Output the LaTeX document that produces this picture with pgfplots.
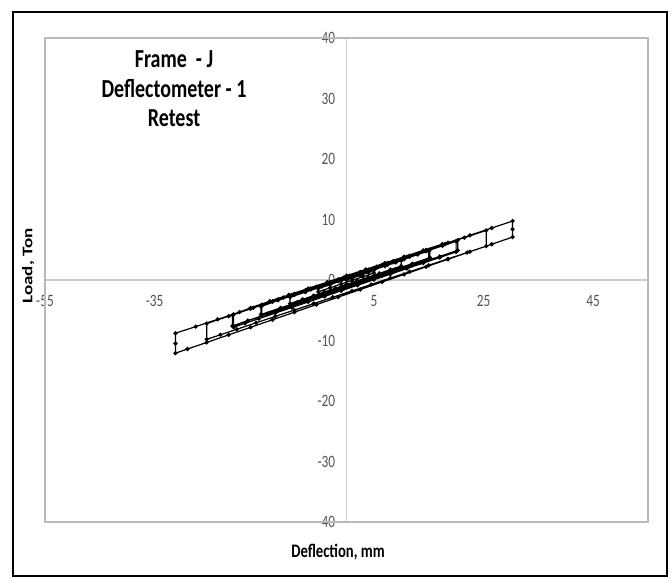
\documentclass[border=0pt]{standalone}
\usepackage{pgfplots}
\pgfplotsset{compat=1.18}
\usepackage{fontspec}
\setmainfont{Carlito}
\definecolor{axgray}{RGB}{205,205,205}
\definecolor{boxgray}{RGB}{185,185,185}
\definecolor{tickgray}{RGB}{85,85,85}
\newcommand\vs[1]{\scalebox{1}[1.3]{#1}}
\begin{document}
\begin{tikzpicture}
\fill[white] (-33.75pt,-42.75pt) rectangle (470.25pt,391.5pt);
\begin{axis}[name=ax, at={(0,0)}, anchor=south west,
  scale only axis, width=452.25pt, height=363pt,
  xmin=-55, xmax=55, ymin=-40, ymax=40,
  axis lines=middle, axis line style={-, axgray, line width=1.1pt},
  xtick={-55,-35,-15,5,25,45},
  xticklabels={\vs{-55},\vs{-35},,\vs{5},\vs{25},\vs{45}},
  ytick={-40,-30,-20,-10,0,10,20,30,40},
  yticklabels={\vs{-40},\vs{-30},\vs{-20},\vs{-10},\vs{0},\vs{10},\vs{20},\vs{30},\vs{40}},
  hide obscured y ticks=false, hide obscured x ticks=false,
  major tick length=0pt,
  tick label style={font=\fontsize{10}{12}\selectfont, text=tickgray},
  xticklabel style={anchor=north, yshift=-8pt},
  yticklabel style={anchor=east, xshift=-5pt},
  clip=false,
]
\draw[boxgray, line width=1.5pt] (rel axis cs:0,0) rectangle (rel axis cs:1,1);
\addplot[black, line width=0.9pt, mark=*, mark size=1.1pt] coordinates {
(0,0) (1,0.3) (2.5,0.75) (4,1.25) (5,1.6) (5,1.16)
(3,0.55) (1,-0.06) (-1,-0.67) (-3,-1.29) (-5.15,-1.95) (-5.15,-1.42)
(-3,-0.76) (-1,-0.15) (1,0.46) (3,1.08) (5,1.69) (7,2.29) (9,2.9) (10,3.2) (10,2.32)
(8,1.71) (6,1.10) (4,0.48) (2,-0.13) (0,-0.74) (-2,-1.36) (-4,-1.97) (-6,-2.58) (-8,-3.2) (-10.3,-3.9) (-10.3,-2.84)
(-7.5,-2.0) (-4.5,-1.09) (-1.5,-0.18) (1.5,0.72) (4.5,1.63) (7.5,2.53) (10.5,3.44) (13,4.2) (15,4.8) (15,3.48)
(12,2.56) (9,1.64) (6,0.72) (3,-0.20) (0,-1.11) (-3,-2.03) (-6,-2.95) (-9,-3.87) (-12,-4.79) (-15.45,-5.85) (-15.45,-4.26)
(-12.5,-3.2) (-9.5,-2.3) (-6.5,-1.4) (-3.5,-0.5) (-0.5,0.4) (2.5,1.3) (5.5,2.2) (8.5,3.1) (11.5,4.0) (14.5,4.9) (15.2,5.0) (15.2,3.7)
(12,2.7) (9,1.8) (6,0.85) (3,-0.05) (0,-0.95) (-3,-1.85) (-6,-2.8) (-9,-3.7) (-12,-4.6) (-15.6,-5.7) (-15.6,-4.4)
(-12.5,-3.37) (-9.5,-2.47) (-6.5,-1.57) (-3.5,-0.67) (-0.5,0.23) (2.5,1.13) (5.5,2.04) (8.5,2.94) (11.5,3.84) (14.5,4.74) (17.5,5.65) (20,6.4) (20,4.64)
(17,3.72) (14,2.80) (11,1.88) (8,0.96) (5,0.05) (2,-0.87) (-1,-1.79) (-4,-2.71) (-7,-3.63) (-10,-4.55) (-13,-5.47) (-16,-6.39) (-18.5,-7.16) (-20.6,-7.8) (-20.6,-5.68)
(-17.5,-4.6) (-14,-3.5) (-10.5,-2.45) (-7,-1.4) (-3.5,-0.35) (0,0.7) (3.5,1.75) (7,2.8) (10.5,3.85) (14,4.9) (17.5,5.95) (20.3,6.6) (20.3,4.9)
(17,3.9) (13.5,2.85) (10,1.8) (6.5,0.7) (3,-0.35) (-0.5,-1.4) (-4,-2.45) (-7.5,-3.5) (-11,-4.6) (-14.5,-5.65) (-18,-6.7) (-20.8,-7.6) (-20.8,-5.8)
(-17,-4.6) (-13.5,-3.55) (-10,-2.49) (-6.5,-1.44) (-3,-0.39) (0.5,0.67) (4,1.72) (7.5,2.78) (11,3.83) (14.5,4.89) (18,5.94) (21.5,7.0) (25.5,8.2) (25.5,5.6)
(22,4.54) (18.5,3.49) (15,2.43) (11.5,1.37) (8,0.32) (4.5,-0.74) (1,-1.80) (-2.5,-2.85) (-6,-3.91) (-9.5,-4.97) (-13,-6.02) (-16.5,-7.08) (-20,-8.14) (-23,-9.05) (-25.5,-9.8) (-25.5,-7.2)
(-21.5,-5.98) (-17.5,-4.77) (-13.5,-3.55) (-9.5,-2.34) (-5.5,-1.12) (-1.5,0.10) (2.5,1.31) (6.5,2.53) (10.5,3.74) (14.5,4.96) (18.5,6.17) (22.5,7.38) (26.5,8.60) (30.3,9.75) (30.3,8.4) (30.3,7.1)
(26.5,5.91) (22.5,4.67) (18.5,3.42) (14.5,2.17) (10.5,0.92) (6.5,-0.33) (2.5,-1.58) (-1.5,-2.83) (-5.5,-4.07) (-9.5,-5.32) (-13.5,-6.57) (-17.5,-7.82) (-21.5,-9.07) (-25.5,-10.32) (-29,-11.4) (-31.2,-12.1) (-31.2,-10.5) (-31.2,-8.8)
(-27.5,-7.7) (-23.5,-6.5) (-19.5,-5.3) (-15.5,-4.1) (-11.5,-2.9) (-7.5,-1.7) (-3.5,-0.5) (0,0.5)
};
\node[font=\bfseries\fontsize{15}{18}\selectfont] at (axis description cs:0.214,0.957) {\vs{Frame\ \ - J}};
\node[font=\bfseries\fontsize{15}{18}\selectfont] at (axis description cs:0.214,0.895) {\vs{Deflectometer - 1}};
\node[font=\bfseries\fontsize{15}{18}\selectfont] at (axis description cs:0.214,0.835) {\vs{Retest}};
\node[font=\bfseries\fontsize{11}{13}\selectfont] at (axis description cs:0.486,-0.062) {\vs{Deflection, mm}};
\node[font=\bfseries\fontsize{11}{13}\selectfont, rotate=90] at (axis description cs:-0.028,0.529) {\scalebox{1.3}[1]{Load, Ton}};
\end{axis}
\pgfresetboundingbox
\path[use as bounding box] (-33.75pt,-42.75pt) rectangle (470.25pt,391.5pt);
\draw[black, line width=1.1pt] (-24pt,-40.5pt) rectangle (466.5pt,382.5pt);
\end{tikzpicture}
\end{document}
